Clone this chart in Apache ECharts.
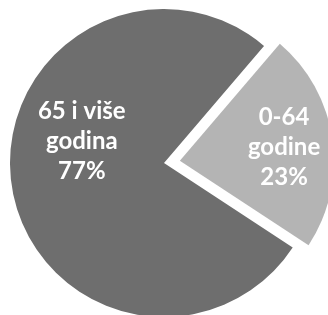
<!DOCTYPE html>
<html>
<head>
<meta charset="utf-8">
<script src="https://cdn.jsdelivr.net/npm/echarts@6/dist/echarts.min.js"></script>
<style>html,body{margin:0;padding:0;background:#fff}#c{width:328px;height:315px}</style>
</head>
<body>
<div id="c"></div>
<script>
var categories = ['0-64\ngodine', '65 i više\ngodina'];
var values = [23, 77];
var colors = ['#b4b4b4', '#6e6e6e'];
var labelShift = [[25, -2], [-3, -33]];

var chart = echarts.init(document.getElementById('c'), null, {renderer: 'canvas'});
chart.setOption({
  animation: false,
  backgroundColor: '#ffffff',
  series: [{
    type: 'pie',
    center: [164, 163],
    radius: [0, 154],
    startAngle: 49.5,
    clockwise: true,
    selectedMode: 'single',
    selectedOffset: 16,
    silent: true,
    label: {
      show: true,
      position: 'inside',
      color: '#ffffff',
      fontFamily: 'Lato',
      fontWeight: 'bold',
      fontSize: 24,
      lineHeight: 30,
      align: 'center',
      formatter: function (p) { return p.name + '\n' + Math.round(p.percent) + '%'; }
    },
    labelLine: {show: false},
    labelLayout: function (p) {
      var s = labelShift[p.dataIndex];
      return {dx: s[0], dy: s[1]};
    },
    itemStyle: {borderWidth: 0},
    data: categories.map(function (c, i) {
      return {name: c, value: values[i], selected: i === 0, itemStyle: {color: colors[i]}};
    })
  }]
});
</script>
</body>
</html>
